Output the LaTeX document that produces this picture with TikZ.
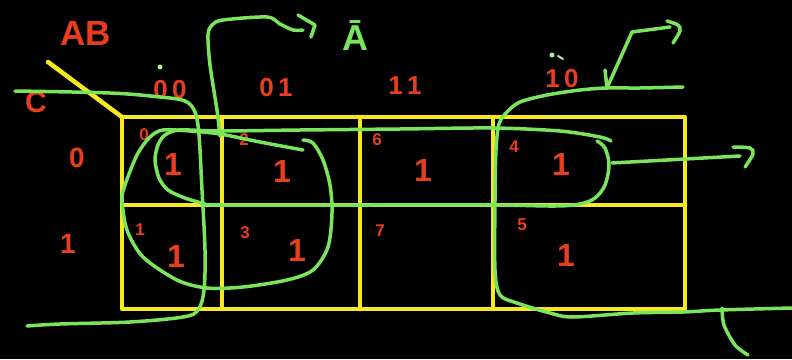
\documentclass[tikz,border=0pt]{standalone}
\usepackage{fontspec}
\setmainfont{Liberation Sans}
\definecolor{kred}{RGB}{232,62,30}
\definecolor{kyel}{RGB}{248,232,30}
\definecolor{kgrn}{RGB}{122,228,92}
\begin{document}
\begin{tikzpicture}[x=1pt,y=-1pt,
  gridline/.style={draw=kyel,line width=4.5pt,line cap=round,line join=round},
  pen/.style={draw=kgrn,line width=3.5pt,line cap=round,line join=round},
  red/.style={text=kred,inner sep=0pt},
  head/.style={red,font=\bfseries\fontsize{26}{26}\selectfont},
  rowl/.style={red,font=\bfseries\fontsize{28}{28}\selectfont},
  idx/.style={red,font=\bfseries\fontsize{17}{17}\selectfont},
  one/.style={red,font=\bfseries\fontsize{32}{32}\selectfont},
  dotmark/.style={fill=kgrn!60!white,draw=none}
]
\fill[black] (0,0) rectangle (792,359);
\useasboundingbox (0,0) rectangle (792,359);

% yellow grid
\draw[gridline] (48,62) -- (122,117);
\draw[gridline] (122,117) rectangle (685,309);
\draw[gridline] (122,205) -- (685,205);
\foreach \x in {222,360,493} \draw[gridline] (\x,117) -- (\x,309);

% red labels
\node[red,font=\bfseries\fontsize{35}{35}\selectfont] (ab) at (86,33) {AB};
\node[red,font=\bfseries\fontsize{30}{30}\selectfont] (c) at (36,102) {C};
\node[head] (h00) at (170,90) {0\,0};
\node[head] (h01) at (276,88) {0\,1};
\node[head] (h11) at (405,86) {1\,1};
\node[head] (h10) at (562,79) {1\,0};
\node[rowl] (r0) at (77,158) {0};
\node[rowl] (r1) at (68,244) {1};

\node[idx] (i0) at (144,135) {0};
\node[idx] (i2) at (244,140) {2};
\node[idx] (i6) at (377,140) {6};
\node[idx] (i4) at (514,147) {4};
\node[idx] (i1) at (140,230) {1};
\node[idx] (i3) at (245,233) {3};
\node[idx] (i7) at (380,231) {7};
\node[idx] (i5) at (522,225) {5};

\node[one] (m0) at (173,164) {1};
\node[one] (m2) at (282,171) {1};
\node[one] (m6) at (423,170) {1};
\node[one] (m4) at (561,164) {1};
\node[one] (m1) at (176,256) {1};
\node[one] (m3) at (297,250) {1};
\node[one] (m5) at (566,255) {1};

% small pen dots
\fill[dotmark] (160,67) circle (2.5pt);
\fill[dotmark] (552,55) circle (2.5pt);
\draw[kgrn!60!white,line width=2pt,line cap=round] (558,56) -- (563,59);

% green strokes
% B-bar left side
\draw[pen] plot[smooth,tension=0.55] coordinates {(15,91) (110,93) (160,97) (185,101) (195,112) (199,135) (202,190) (205,250) (204,290) (198,310) (183,317) (130,322) (60,324) (27,326)};
% A-bar arrow
\draw[pen] plot[smooth,tension=0.5] coordinates {(220,136) (217,110) (210,65) (208,35) (212,25) (223,20) (267,17) (280,24) (293,30) (303,30)};
\draw[pen] (298,15) -- (315,25) -- (311,37);
\node[text=kgrn,inner sep=0pt,font=\bfseries\fontsize{36}{36}\selectfont] (abar) at (355,36) {Ā};
% C-bar loop
\draw[pen] plot[smooth,tension=0.5] coordinates {(205,204) (185,198) (168,190) (159,178) (155,160) (158,145) (165,135) (180,130) (220,131) (300,130) (400,129) (493,128) (560,131) (600,137) (611,141)};
\draw[pen] plot[smooth,tension=0.55] coordinates {(597,141) (605,148) (609,165) (605,185) (595,198) (580,204) (555,206) (493,205) (360,205) (222,205) (205,204)};
\draw[pen] (612,163) -- (740,156);
\draw[pen] plot[smooth,tension=0.5] coordinates {(733,147) (750,148) (753,154) (745,167)};
% A-bar loop
\draw[pen] plot[smooth,tension=0.5] coordinates {(303,140) (313,143) (323,160) (330,185) (332,213) (328,247) (313,270) (287,280) (243,287) (207,288) (177,280) (143,257) (127,230) (122,200) (125,185) (137,155) (150,137) (163,130) (190,131) (220,134) (260,142) (303,150)};
% B-bar right side
\draw[pen] plot[smooth,tension=0.5] coordinates {(683,87) (640,88) (607,88) (580,90) (547,95) (520,102) (507,112) (499,124) (496,150) (495,200) (495,270) (500,295) (517,303) (550,313) (573,317) (633,313) (683,312) (720,310) (792,308)};
\draw[pen] (605,70) -- (607,88) -- (632,32) -- (670,27);
\draw[pen] plot[smooth,tension=0.5] coordinates {(667,21) (678,25) (680,31) (673,43)};
\draw[pen] plot[smooth,tension=0.5] coordinates {(722,308) (724,325) (735,345) (748,355)};
\end{tikzpicture}
\end{document}
